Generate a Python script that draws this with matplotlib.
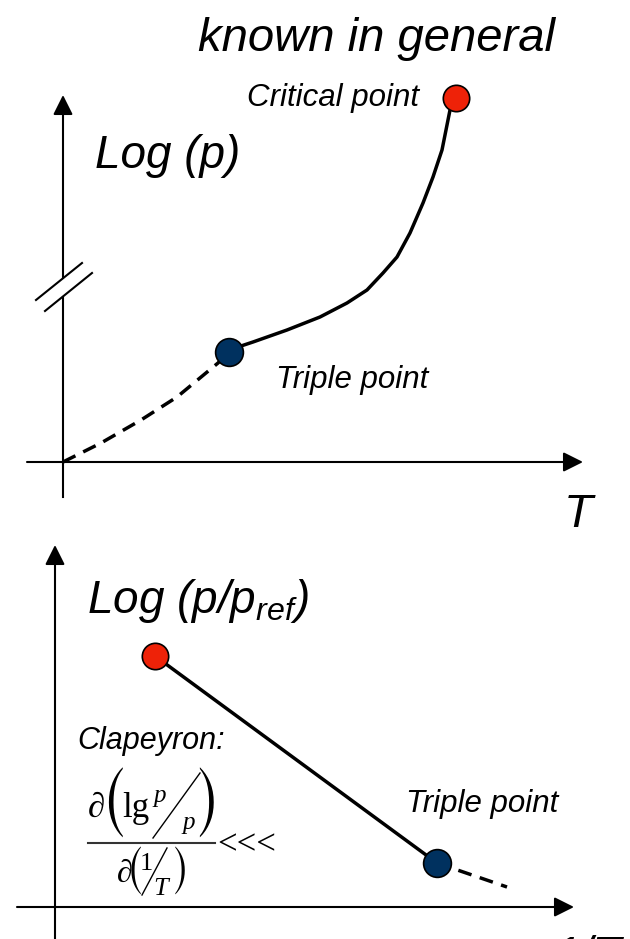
import numpy as np
import matplotlib
matplotlib.use("Agg")
import matplotlib.pyplot as plt

plt.rcParams['font.family'] = ['Liberation Sans', 'DejaVu Sans']
plt.rcParams['mathtext.fontset'] = 'custom'
plt.rcParams['mathtext.rm'] = 'Liberation Sans'
plt.rcParams['mathtext.it'] = 'Liberation Sans:italic'

# top panel: log(p) vs T (arbitrary units, origin at axis crossing)
curve_T = [1.66, 1.72, 1.90, 2.24, 2.57, 2.84, 3.04, 3.20, 3.34, 3.47, 3.60, 3.70, 3.79, 3.87, 3.93]
curve_logp = [1.10, 1.14, 1.20, 1.32, 1.45, 1.59, 1.72, 1.89, 2.05, 2.29, 2.59, 2.85, 3.12, 3.52, 3.64]
extrap_T = [0.0, 0.38, 0.78, 1.14, 1.55, 1.66]
extrap_logp = [0.0, 0.19, 0.42, 0.65, 0.99, 1.10]
triple_top = (1.66, 1.10)
critical_top = (3.93, 3.64)

# bottom panel: log(p/pref) vs 1/T
line_invT = [1.00, 3.82]
line_logp = [2.51, 0.44]
extrap_invT = [3.82, 4.52]
extrap_logp2 = [0.44, 0.20]

RED = '#ee2208'
BLUE = '#00315f'
SERIF = ['Liberation Serif', 'DejaVu Serif']
PAREN = ['STIXSizeOneSym', 'DejaVu Serif']

fig = plt.figure(figsize=(6.3, 9.39), dpi=100)
ax1 = fig.add_axes([0, 419/939, 1, 520/939])
ax2 = fig.add_axes([0, 0, 1, 419/939])
ax1.set_xlim(-0.63, 5.67)
ax1.set_ylim(-0.58, 4.62)
ax2.set_xlim(-0.55, 5.75)
ax2.set_ylim(-0.32, 3.87)
for ax in (ax1, ax2):
    ax.axis('off')

arrow = dict(arrowstyle='-|>,head_length=0.6,head_width=0.3', mutation_scale=20,
             lw=1.5, color='k', shrinkA=0, shrinkB=0)

# top axes
ax1.annotate('', xy=(5.20, 0), xytext=(-0.36, 0), arrowprops=arrow)
ax1.annotate('', xy=(0, 3.67), xytext=(0, 1.84), arrowprops=arrow)
ax1.plot([0, 0], [-0.35, 1.65], color='k', lw=1.5)
ax1.plot([-0.27, 0.19], [1.62, 1.99], color='k', lw=1.5)
ax1.plot([-0.18, 0.29], [1.51, 1.89], color='k', lw=1.5)

ax1.plot(extrap_T, extrap_logp, color='k', lw=2.5, dashes=(4, 2.5))
ax1.plot(curve_T, curve_logp, color='k', lw=2.5, solid_joinstyle='round')
ax1.plot(*triple_top, 'o', ms=20, mfc=BLUE, mec='k', mew=1.2)
ax1.plot(*critical_top, 'o', ms=19, mfc=RED, mec='k', mew=1.2)

ax1.text(1.35, 4.11, 'known in general', fontsize=34, style='italic')
ax1.text(1.84, 3.56, 'Critical point', fontsize=22.5, style='italic')
ax1.text(0.32, 2.94, 'Log (p)', fontsize=33, style='italic')
ax1.text(2.13, 0.74, 'Triple point', fontsize=22.5, style='italic')
ax1.text(5.15, -0.65, 'T', fontsize=34, style='italic', ha='center')

# bottom axes
ax2.annotate('', xy=(5.19, 0), xytext=(-0.38, 0), arrowprops=arrow)
ax2.annotate('', xy=(0, 3.62), xytext=(0, -0.40), arrowprops=arrow)

ax2.plot(line_invT, line_logp, color='k', lw=2.5)
ax2.plot(extrap_invT, extrap_logp2, color='k', lw=2.5, dashes=(4, 2.5))
ax2.plot(line_invT[0], line_logp[0], 'o', ms=19, mfc=RED, mec='k', mew=1.2)
ax2.plot(line_invT[1], line_logp[1], 'o', ms=20, mfc=BLUE, mec='k', mew=1.2)

ax2.text(0.32, 2.94, r'Log (p/p$_{\mathit{ref}}$)', fontsize=33, style='italic')
ax2.text(0.22, 1.58, 'Clapeyron:', fontsize=22, style='italic')
ax2.text(3.51, 0.95, 'Triple point', fontsize=22.5, style='italic')
ax2.text(5.67, -0.28, '1/T', fontsize=34, style='italic', ha='right', va='top')

# Clapeyron formula, typeset piece by piece
ax2.text(0.33, 0.90, '\u2202', fontsize=25, family=SERIF)
ax2.text(0.58, 1.01, '(', fontsize=41, family=PAREN, ha='center', va='center')
ax2.text(0.67, 0.90, 'lg', fontsize=25, family=SERIF)
ax2.text(0.98, 1.05, 'p', fontsize=18, family=SERIF, style='italic')
ax2.plot([0.98, 1.45], [0.69, 1.34], color='k', lw=1.0)
ax2.text(1.27, 0.78, 'p', fontsize=18, family=SERIF, style='italic')
ax2.text(1.52, 1.01, ')', fontsize=41, family=PAREN, ha='center', va='center')
ax2.plot([0.33, 1.60], [0.64, 0.64], color='#333333', lw=1.5)
ax2.text(0.62, 0.25, '\u2202', fontsize=23, family=SERIF)
ax2.text(0.80, 0.355, '(', fontsize=28, family=PAREN, ha='center', va='center')
ax2.text(0.85, 0.37, '1', fontsize=19, family=SERIF)
ax2.plot([0.87, 1.12], [0.12, 0.59], color='k', lw=1.0)
ax2.text(0.98, 0.12, 'T', fontsize=19, family=SERIF, style='italic')
ax2.text(1.26, 0.355, ')', fontsize=28, family=PAREN, ha='center', va='center')
ax2.text(1.62, 0.53, '<<<', fontsize=25, family=SERIF)

fig.savefig('out.png', dpi=100)
